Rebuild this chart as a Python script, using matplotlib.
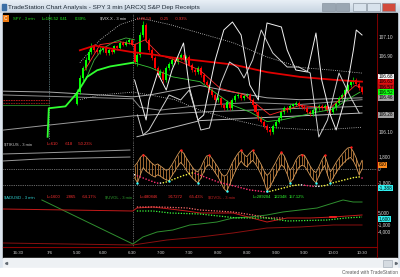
import matplotlib
matplotlib.use("Agg")
import matplotlib.pyplot as plt
import matplotlib.transforms as mtrans
from matplotlib.colors import LinearSegmentedColormap
from matplotlib.patches import Rectangle
import numpy as np

plt.rcParams['font.family'] = ['Liberation Sans', 'DejaVu Sans']

# ---------------- data ----------------
# x is a bar index: 0 = 6:00, one bar = 3 minutes
time_ticks = [-29.5, -18.4, -9, 0, 10, 20, 30, 40, 50, 60, 70, 80, 90]
time_labels = ["16:30", "7/6", "5:30", "6:00", "6:30", "7:00", "7:30",
               "8:00", "8:30", "9:00", "9:30", "10:00", "10:30"]

spy_idx = list(range(-9, 91))
spy_open0 = 106.40
spy_close = [106.52, 106.67, 106.77, 106.86, 106.94, 107.01, 106.96, 106.94, 106.96, 106.98,
             106.93, 106.96, 106.94, 107.00, 106.98, 107.04, 107.02, 107.05, 107.07, 107.02,
             106.84, 106.91, 107.12, 107.23, 107.07, 106.96, 106.88, 106.77, 106.70, 106.73,
             106.65, 106.77, 106.82, 106.86, 106.84, 106.88, 106.91, 106.86, 106.89, 106.81,
             106.75, 106.73, 106.77, 106.70, 106.63, 106.59, 106.54, 106.49, 106.44, 106.46,
             106.38, 106.35, 106.42, 106.35, 106.44, 106.48, 106.49, 106.46, 106.48, 106.49,
             106.44, 106.38, 106.31, 106.25, 106.21, 106.16, 106.12, 106.10, 106.16, 106.21,
             106.25, 106.31, 106.35, 106.33, 106.37, 106.39, 106.41, 106.37, 106.36, 106.35,
             106.31, 106.29, 106.33, 106.35, 106.37, 106.35, 106.37, 106.33, 106.31, 106.35,
             106.41, 106.46, 106.49, 106.54, 106.59, 106.63, 106.65, 106.61, 106.56, 106.52]
spy_high = [106.55, 106.70, 106.80, 106.89, 106.97, 107.04, 107.03, 106.98, 106.99, 107.00,
            107.00, 106.98, 106.98, 107.02, 107.02, 107.06, 107.06, 107.07, 107.09, 107.09,
            107.04, 106.94, 107.15, 107.27, 107.25, 107.09, 106.98, 106.90, 106.79, 106.76,
            106.75, 106.79, 106.84, 106.89, 106.88, 106.90, 106.93, 106.93, 106.91, 106.91,
            106.83, 106.77, 106.79, 106.79, 106.72, 106.65, 106.61, 106.56, 106.51, 106.48,
            106.48, 106.40, 106.44, 106.44, 106.46, 106.50, 106.52, 106.51, 106.50, 106.51,
            106.51, 106.46, 106.40, 106.33, 106.27, 106.23, 106.18, 106.14, 106.18, 106.23,
            106.27, 106.33, 106.37, 106.37, 106.39, 106.41, 106.43, 106.43, 106.39, 106.38,
            106.37, 106.33, 106.35, 106.37, 106.39, 106.39, 106.39, 106.39, 106.35, 106.37,
            106.43, 106.48, 106.51, 106.56, 106.61, 106.65, 106.68, 106.67, 106.63, 106.58]
spy_low = [106.38, 106.50, 106.64, 106.75, 106.84, 106.92, 106.94, 106.92, 106.92, 106.94,
           106.91, 106.91, 106.92, 106.93, 106.96, 106.97, 107.00, 107.00, 107.03, 107.00,
           106.82, 106.80, 106.89, 107.10, 107.05, 106.94, 106.86, 106.75, 106.68, 106.68,
           106.62, 106.63, 106.75, 106.80, 106.82, 106.82, 106.86, 106.84, 106.84, 106.79,
           106.73, 106.70, 106.71, 106.68, 106.61, 106.57, 106.52, 106.47, 106.42, 106.42,
           106.36, 106.33, 106.33, 106.33, 106.33, 106.42, 106.46, 106.44, 106.44, 106.46,
           106.42, 106.36, 106.29, 106.23, 106.19, 106.14, 106.10, 106.07, 106.08, 106.14,
           106.19, 106.23, 106.29, 106.31, 106.31, 106.35, 106.37, 106.35, 106.34, 106.33,
           106.29, 106.27, 106.27, 106.31, 106.33, 106.33, 106.33, 106.31, 106.29, 106.29,
           106.33, 106.39, 106.44, 106.47, 106.52, 106.57, 106.61, 106.59, 106.54, 106.50]

# indicator lines on the price panel (read at knots)
fast_green_x = [-19.2, -18.8, -13, -9, -5.5, -2, 2.5, 10.5]
fast_green_y = [106.05, 106.35, 106.37, 106.51, 106.68, 106.75, 106.79, 106.83]
slow_green_x = [10.5, 16.3, 24.3, 33.7, 45.2, 51.1, 57, 62.5, 68.5, 74.4, 80, 84.8, 89.3]
slow_green_y = [106.83, 106.78, 106.68, 106.63, 106.38, 106.31, 106.21, 106.23, 106.27,
                106.31, 106.34, 106.44, 106.52]
arc_green_x = [-6, -3, 0, 4, 8, 11]
arc_green_y = [106.65, 106.86, 106.98, 107.05, 107.09, 107.07]
red_ma_x = [-8, -2.8, 2.4, 10.4, 16.3, 25, 33.7, 45.2, 57, 68.5, 80, 90]
red_ma_y = [106.96, 107.01, 106.98, 106.94, 106.92, 106.88, 106.85, 106.81, 106.73,
            106.68, 106.65, 106.63]
red_fast_x = [-6.3, -1, 5.9, 11.1, 14.6, 19.8, 26.8, 33.7, 40.7, 49.3, 58, 68.5, 78.9, 87.6, 90]
red_fast_y = [106.75, 107.02, 107.05, 107.02, 107.07, 106.91, 106.84, 106.75, 106.56,
              106.49, 106.28, 106.38, 106.35, 106.59, 106.57]
band_up_x = [-8, -1, 5.9, 12.9, 23.3, 33.7, 45.2, 57, 68.5, 80, 90]
band_up_y = [106.83, 107.07, 107.23, 107.30, 107.23, 107.14, 107.04, 106.89, 106.78, 106.75, 106.72]
band_lo_x = [-8, -1, 10.4, 16.3, 25, 33.7, 45.2, 57, 74.4, 90]
band_lo_y = [106.44, 106.49, 106.52, 106.49, 106.44, 106.33, 106.23, 106.15, 106.12, 106.15]
gray1_x = [-34.7, -18.4, 10.4, 16.3, 33.7, 45.2, 57, 68.5, 90]
gray1_y = [106.53, 106.52, 106.47, 106.49, 106.59, 106.52, 106.46, 106.44, 106.46]
gray2_x = [-34.7, 10.4, 12.9, 19.8, 33.7, 51.1, 68.5, 90]
gray2_y = [106.49, 106.45, 106.36, 106.33, 106.38, 106.41, 106.39, 106.44]
gray3_x = [-34.7, 10.4, 33.7, 68.5, 90]
gray3_y = [106.12, 106.27, 106.31, 106.35, 106.37]
gray4_x = [11.8, 23.3, 33.7, 61.5, 90]
gray4_y = [106.05, 106.14, 106.22, 106.26, 106.30]
pre_red_x = [-34.7, -18.8]
pre_red_a = [106.44, 106.44]
pre_red_b = [106.41, 106.41]
pre_green_y = [106.38, 106.38]

# $VIX.X (own scale)
vix1_x = [11, 13, 15, 16, 19, 22, 24, 28, 30, 33, 35, 39, 42, 45, 48, 51, 54, 55, 57, 62,
          64, 67, 71, 74, 76, 79, 81, 84, 87, 88, 90]
vix1_y = [26.20, 26.00, 25.80, 26.00, 26.27, 26.10, 26.30, 26.57, 26.13, 25.80, 25.85,
          26.40, 26.70, 26.78, 26.65, 26.15, 26.00, 26.40, 26.77, 26.73, 26.50, 26.30,
          26.28, 26.67, 26.20, 25.85, 25.70, 26.00, 26.50, 26.70, 26.65]
vix2_x = [12, 14, 16, 20, 23, 27, 30, 34, 37, 41, 44, 47, 49, 52, 55, 59, 64, 68, 72, 75,
          78, 82, 86, 89]
vix2_y = [25.85, 25.65, 25.70, 25.90, 26.05, 26.00, 26.10, 25.70, 25.72, 26.17, 26.38,
          26.32, 26.22, 26.40, 26.70, 26.47, 26.33, 26.33, 26.27, 25.63, 25.80, 26.27,
          26.03, 25.87]

# $TIKUS
tick_idx = list(range(11, 91))
tick_hi = [400, 900, 1600, 2000, 1700, 1200, 800, 500, 700, 400,
           100, -200, 0, 600, 1300, 2000, 2600, 2200, 1500, 900,
           300, -200, -400, 200, 1100, 1800, 1900, 1400, 800, 200,
           -600, -1000, -800, 0, 900, 1600, 2200, 2600, 2000, 1700,
           2200, 2600, 2000, 1300, 600, -300, -900, -500, 200, 900,
           1700, 2300, 1800, 800, -200, 300, 1200, 1800, 2000, 1900,
           1200, 400, -200, -500, 300, 1200, 1900, 800, -400, 200,
           900, 1500, 2000, 2500, 2900, 3000, 2400, 1500, 300, 1200]
tick_lo = [-1200, -1900, -800, 200, -300, -600, -900, -1100, -800, -1000,
           -1300, -1500, -1600, -900, -300, 400, 900, 500, -200, -700,
           -1200, -1600, -1900, -1300, -400, 400, 600, 100, -500, -1100,
           -1900, -2700, -3100, -2200, -1200, -300, 500, 1100, 600, 300,
           800, 1200, 700, 0, -800, -1800, -3000, -2500, -1700, -900,
           -100, 600, 200, -700, -1900, -1400, -500, 200, 500, 400,
           -200, -900, -1500, -1900, -1000, -200, 500, -800, -1900, -1200,
           -500, 100, 600, 1000, 1400, 1600, 1100, 300, -800, 0]
tick_peaks = [14, 27, 37, 48, 52, 62, 69, 77, 86]
tick_troughs = [12, 23, 33, 43, 57, 65, 74, 79]
tick_avg = [-800, -950, -1100, -1250, -1400, -1550, -1700, -1850, -1950,
            -1950, -1900, -1800,
            -1650, -1500, -1350, -1200, -1050, -900, -800, -650, -550,
            -600, -750, -900, -1050, -1200, -1350, -1500, -1650, -1800,
            -1900, -2000, -2100, -2200, -2300, -2400, -2500, -2600, -2700, -2800,
            -2900, -2950, -3000, -3050, -3100, -3150, -3150,
            -3100, -3000, -2900, -2800, -2700, -2600, -2500, -2400, -2300, -2250, -2200,
            -2200, -2250, -2300, -2350, -2400, -2400, -2400, -2350, -2300, -2200,
            -2000, -1900, -1800, -1700, -1600, -1500, -1400, -1300, -1200, -1150, -1100,
            -1250]
tick_prev_x = [-34.7, -21.9, 9.4]
tick_prev_a = [2080, 2220, 2630]
tick_prev_b = [1110, 1390, 1660]

# $ADUSD / $UVOL / $DVOL
uvol_x = [-21.2, 10.4, 13.9, 18.8, 24.3, 30.2, 33.7, 39.6, 45.2, 51.1, 57, 62.5, 68.5,
          74.4, 80, 83.4, 86.9, 90]
uvol_y = [10690, -10170, -6850, -4480, -3530, -1160, -690, 260, 2160, 2630, 3580, 5000,
          5950, 6900, 9270, 10690, 9740, 9740]
ad_x = [-34.7, 10.4, 11.8, 17.4, 23.3, 29.2, 33.7, 45.2, 57, 64, 72, 80, 90]
ad_y = [6420, 5470, 6900, 7370, 6420, 5470, 4530, 4530, 260, 2160, 2160, 2630, 3580]
ad_dots_x = [11.8, 19.8, 29.2, 33.7, 45.2, 52.1, 57, 62.5]
ad_dots_y = [7370, 7370, 6900, 5950, 5000, 3580, 2160, 2160]
ad_dots2_x = [79, 81]
ad_dots2_y = [2630, 2630]
uv_dots_x = [11.8, 17.4, 23.3, 33.7, 46.6, 57, 64, 78, 84.4, 90]
uv_dots_y = [5470, 5470, 4530, 4050, 2160, 2160, 740, 1210, 2160, 2630]
dvol_x = [-34.7, 10.4, 22.2, 33.7, 45.2, 57, 68.5, 80, 90]
dvol_y = [-9690, -10640, -8270, -6850, -4950, -2580, -2110, -1160, -1160]

# ---------------- figure ----------------
W, H = 400, 277
FS = 3.0      # panel header text
FA = 3.4      # axis labels
fig = plt.figure(figsize=(4, 2.77), dpi=100)
fig.patch.set_facecolor('white')


def frect(x0, y0, x1, y1):
    return [x0 / W, 1 - y1 / H, (x1 - x0) / W, (y1 - y0) / H]


def ftext(x, y, s, **kw):
    kw.setdefault('fontsize', FS)
    kw.setdefault('va', 'center')
    return fig.text(x / W, 1 - y / H, s, **kw)


# window chrome
bg = fig.add_axes([0, 0, 1, 1])
bg.axis('off')
cm = LinearSegmentedColormap.from_list('tb', ['#e8eff6', '#c6d3e0'])
bg.imshow(np.linspace(0, 1, 20)[:, None], extent=(0, 400, 13, 0), cmap=cm, aspect='auto')
bg.add_patch(Rectangle((0, 13), 400, 264, color='#dde5ee'))
bg.add_patch(Rectangle((3, 13), 394, 245, color='black'))
bg.add_patch(Rectangle((3, 258), 394, 10, color='#eef1f4'))
bg.add_patch(Rectangle((0, 268), 400, 9, color='white'))
for x0, fc in [(322, '#9aa6b2'), (336, '#9aa6b2'), (353, '#d8e2ec'), (367, '#d8e2ec'), (382, '#d24a3c')]:
    bg.add_patch(Rectangle((x0, 3), 13, 8, facecolor=fc, edgecolor='#7d8894', lw=0.4))
bg.add_patch(Rectangle((383, 260), 9, 7, facecolor='#d5dbe1', edgecolor='#9aa4ae', lw=0.4))
bg.plot([6], [263], marker='<', ms=1.5, color='#606870')
bg.plot([396], [263], marker='>', ms=1.5, color='#606870')
bg.plot([377, 377], [14, 257], color='#7a0000', lw=0.8)
bg.set_xlim(0, 400)
bg.set_ylim(277, 0)
bg.text(8, 7, "TradeStation Chart Analysis - SPY 3 min [ARCX] S&P Dep Receipts",
        fontsize=4.6, color='#1e2a36', va='center')
bg.add_patch(Rectangle((2, 4), 4, 6, color='#3a6ea5'))
bg.text(398, 272.5, "Created with TradeStation", fontsize=3.4, color='#5a5a5a',
        ha='right', va='center')

XL = (-34.7, 95.2)
ax1 = fig.add_axes(frect(3, 14, 377, 140))
ax2 = fig.add_axes(frect(3, 140, 377, 194))
ax3 = fig.add_axes(frect(3, 194, 377, 247))
for ax in (ax1, ax2, ax3):
    ax.set_facecolor('black')
    ax.set_xlim(*XL)
    for s in ax.spines.values():
        s.set_visible(False)
    ax.tick_params(axis='x', length=0, labelbottom=False)
    ax.axvline(10.5, color='#b8b8b8', lw=0.5, ls=(0, (1, 1.5)))

# ---- price panel ----
axv = ax1.twinx()
axv.set_ylim(25.60, 26.86)
axv.set_yticks([])
for s in axv.spines.values():
    s.set_visible(False)
ax1.set_ylim(106.016, 107.342)
ax1.yaxis.tick_right()
ax1.set_yticks([107.10, 106.90, 106.10], ["107.10", "106.90", "106.10"])
ax1.tick_params(axis='y', length=0, pad=0.8, labelsize=FA, labelcolor='#d8d8d8')
ax1.axvline(-18.8, color='#9fd0d8', lw=0.5, ls=(0, (1, 1.5)))

dot = (0, (1, 1.6))
ax1.plot(band_up_x, band_up_y, color='#d0d0d0', lw=0.6, ls=dot, zorder=2)
ax1.plot(band_lo_x, band_lo_y, color='#d0d0d0', lw=0.6, ls=dot, zorder=2)
ax1.plot(gray1_x, gray1_y, color='#a8a8a8', lw=0.7, zorder=2)
ax1.plot(gray2_x, gray2_y, color='#8c8c8c', lw=0.7, zorder=2)
ax1.plot(gray3_x, gray3_y, color='#9a9a9a', lw=0.7, zorder=2)
ax1.plot(gray4_x, gray4_y, color='#bdbdbd', lw=0.7, zorder=2)
ax1.plot(pre_red_x, pre_red_a, color='#d02020', lw=0.6, ls=(0, (2, 1)), zorder=2)
ax1.plot(pre_red_x, pre_red_b, color='#a01818', lw=0.6, ls=(0, (2, 1)), zorder=2)
ax1.plot(pre_red_x, pre_green_y, color='#2a8a2a', lw=0.6, zorder=2)

o = np.array([spy_open0] + spy_close[:-1])
c = np.array(spy_close)
col = np.where(c >= o, '#00ff00', '#ff0000')
ax1.vlines(spy_idx, spy_low, spy_high, colors=col, lw=0.5, zorder=4)
ax1.bar(spy_idx, np.maximum(np.abs(c - o), 0.006), bottom=np.minimum(o, c), width=0.7,
        color=col, lw=0, zorder=4)

ax1.plot(arc_green_x, arc_green_y, color='#3fae3f', lw=0.6, zorder=5)
ax1.plot(slow_green_x, slow_green_y, color='#38c838', lw=0.6, zorder=5)
ax1.plot(fast_green_x, fast_green_y, color='#30ff30', lw=1.3, zorder=5)
ax1.plot(red_fast_x, red_fast_y, color='#ff2a2a', lw=0.6, zorder=5)
ax1.plot(red_ma_x, red_ma_y, color='#e00000', lw=1.3, zorder=5)
axv.plot(vix1_x, vix1_y, color='#f2f2f2', lw=0.7, zorder=6)
axv.plot(vix2_x, vix2_y, color='#d0d0d0', lw=0.7, zorder=6)

yblend1 = mtrans.blended_transform_factory(ax1.transAxes, ax1.transData)
for val, fc, tc in [(106.68, '#f4f4f4', 'black'), (106.63, '#e01010', 'black'),
                    (106.57, '#c01010', 'black'), (106.52, '#10ff10', 'black'),
                    (106.46, '#a0a0a0', 'black'), (106.28, '#a0a0a0', 'black')]:
    ax1.text(1.004, val, f"{val:.2f}", transform=yblend1, fontsize=FA, color=tc,
             va='center', ha='left', clip_on=False,
             bbox=dict(boxstyle='square,pad=0.12', fc=fc, ec='none'))

# ---- tick panel ----
ax2.set_ylim(-3463, 4017)
ax2.yaxis.tick_right()
ax2.set_yticks([1800, 0, -1800], ["1,800", "0", "-1,800"])
ax2.tick_params(axis='y', length=0, pad=0.8, labelsize=FA, labelcolor='#d8d8d8')
ax2.axhline(0, color='#c8c8c8', lw=0.5, ls=dot)
ax2.axhline(-2200, color='#c8c8c8', lw=0.5, ls=dot)
ax2.plot(tick_prev_x, tick_prev_a, color='#9a9a9a', lw=0.7)
ax2.plot(tick_prev_x, tick_prev_b, color='#9a9a9a', lw=0.7)
ax2.vlines(tick_idx, tick_lo, tick_hi, colors='#b87838', lw=0.6)
ax2.plot(tick_idx, tick_hi, color='#d49a5a', lw=0.6)
ax2.plot(tick_idx, tick_lo, color='#d49a5a', lw=0.6)
ti = np.array(tick_idx)
hi = np.array(tick_hi)
lo = np.array(tick_lo)
ax2.scatter(tick_peaks, hi[np.searchsorted(ti, tick_peaks)], s=3, color='#ff1818', lw=0, zorder=5)
ax2.scatter(tick_troughs, lo[np.searchsorted(ti, tick_troughs)], s=3, color='#30ffff', lw=0, zorder=5)
avg = np.array(tick_avg)
d = np.diff(avg, prepend=avg[0])
avg_col = np.where(d > 0, '#f0f040', np.where(d < 0, '#ff3070', '#f0f0f0'))
ax2.scatter(tick_idx, tick_avg, s=1.3, c=avg_col, lw=0, zorder=4)
yblend2 = mtrans.blended_transform_factory(ax2.transAxes, ax2.transData)
ax2.text(1.004, 610, "610", transform=yblend2, fontsize=FA, color='black', va='center',
         clip_on=False, bbox=dict(boxstyle='square,pad=0.12', fc='#ff8c1a', ec='none'))
ftext(378.5, 188, "-1,388", color='black', fontsize=FA,
      bbox=dict(boxstyle='square,pad=0.12', fc='#30f0f0', ec='none'))

# ---- breadth panel ----
ax3.set_ylim(-11590, 13530)
ax3.yaxis.tick_right()
ax3.set_yticks([5000, -1000, -4000], ["5,000", "-1,000", "-4,000"])
ax3.tick_params(axis='y', length=0, pad=0.8, labelsize=FA, labelcolor='#d8d8d8')
ax3.plot(dvol_x, dvol_y, color='#8a1010', lw=0.7)
ax3.plot(uvol_x, uvol_y, color='#2f8f2f', lw=0.7)
ax3.plot(ad_x, ad_y, color='#c41a1a', lw=0.7)
ax3.plot(ad_dots_x, ad_dots_y, color='#ff6a6a', lw=0.9, ls=(0, (1, 1.2)))
ax3.plot(ad_dots2_x, ad_dots2_y, color='#ff2020', lw=1.2)
ax3.plot(uv_dots_x, uv_dots_y, color='#3cff3c', lw=0.9, ls=(0, (1, 1.2)))
ax3.spines['bottom'].set_visible(True)
ax3.spines['bottom'].set_color('#8a0000')
ax3.spines['bottom'].set_linewidth(0.8)
ax3.set_xticks(time_ticks, time_labels)
ax3.tick_params(axis='x', labelbottom=True, pad=3.0, labelsize=3.2, labelcolor='#d0d0d0')
yblend3 = mtrans.blended_transform_factory(ax3.transAxes, ax3.transData)
ax3.text(1.004, 1600, "1,600", transform=yblend3, fontsize=FA, color='black', va='center',
         clip_on=False, bbox=dict(boxstyle='square,pad=0.12', fc='#30f0f0', ec='none'))

# ---- panel headers ----
ftext(4.2, 18.5, "C", color='white', fontsize=3.4,
      bbox=dict(boxstyle='square,pad=0.25', fc='#f07a10', ec='none'))
for x, s, cl in [(13, "SPY - 3 min", '#20e020'), (42, "L=106.52", '#20ff20'),
                 (60, "0.41", '#20ff20'), (75, "0.39%", '#20ff20'),
                 (100, "$VIX.X - 3 min", '#e0e0e0'), (137, "L=26.59", '#ff3030'),
                 (160, "-0.25", '#ff3030'), (175, "-0.93%", '#ff3030')]:
    ftext(x, 19, s, color=cl)
for x, s, cl in [(4, "$TIKUS - 3 min", '#c8c8c8'), (47, "L=610", '#ff3030'),
                 (65, "-618", '#ff3030'), (78, "-50.23%", '#ff3030')]:
    ftext(x, 144, s, color=cl)
for x, s, cl in [(3.5, "$ADUSD - 3 min", '#30d8d8'), (47, "L=1600", '#ff3030'),
                 (66, "-2865", '#ff3030'), (82, "-64.17%", '#ff3030'),
                 (105, "$UVOL - 3 min", '#2fa02f'), (140, "L=480846", '#ff3030'),
                 (168, "-917272", '#ff3030'), (189, "-65.43%", '#ff3030'),
                 (208, "$DVOL - 3 min", '#c02020'), (253, "L=289204", '#30ff30'),
                 (274, "122348", '#30ff30'), (289, "157.12%", '#30ff30')]:
    ftext(x, 197.5, s, color=cl)

fig.savefig("out.png", dpi=100, facecolor=fig.get_facecolor())
